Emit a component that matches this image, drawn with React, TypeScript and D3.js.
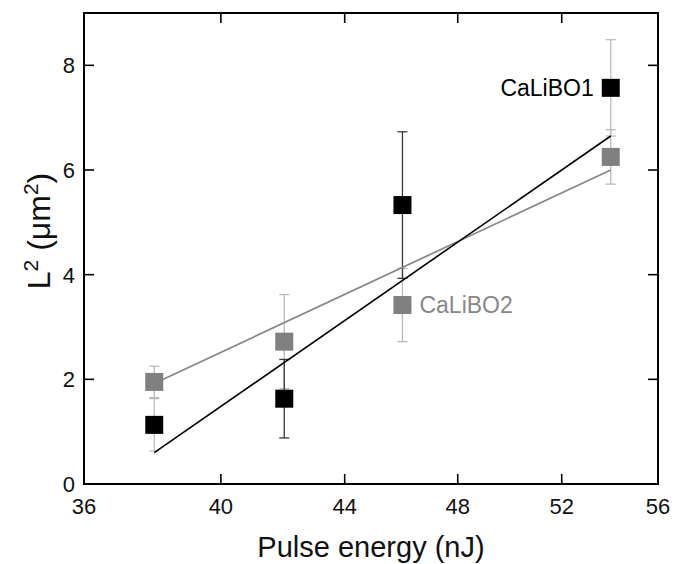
import * as d3 from 'd3';

const W = 674, H = 564;
const FONT = '"Liberation Sans", Arial, sans-serif';

// data
const energies = [38, 42, 46, 54];
const calibo1 = [1.13, 1.63, 5.33, 7.57];
const calibo1Err = [0.5, 0.75, 1.4, 0.92];
const calibo2 = [1.95, 2.72, 3.42, 6.25];
const calibo2Err = [0.3, 0.9, 0.7, 0.52];
const fit1 = [0.6, 6.65]; // linear fit value at first / last energy
const fit2 = [1.92, 6.0];
const xTicks = [36, 40, 44, 48, 52, 56];
const yTicks = [0, 2, 4, 6, 8];

const x = d3.scaleLog().domain([36, 56]).range([84, 658]);
const y = d3.scaleLinear().domain([0, 9]).range([484, 13]);

const SQ = 18;
const CAP = 5;

type Series = { vals: number[]; err: number[]; fill: string; bar: (i: number) => string };

const series: Series[] = [
  { vals: calibo2, err: calibo2Err, fill: '#808080', bar: () => '#b8b8b8' },
  // the outer black bars come out light in the reference
  { vals: calibo1, err: calibo1Err, fill: '#000', bar: (i) => (i === 0 || i === 3 ? '#bdbdbd' : '#3a3a3a') },
];

export default function App() {
  const [left, right] = x.range();
  const [bottom, top] = y.range();
  const first = energies[0], last = energies[energies.length - 1];

  const bars = series.map((s, si) =>
    s.vals.map((v, i) => {
      const cx = x(energies[i]);
      const y1 = y(v - s.err[i]), y2 = y(v + s.err[i]);
      const c = s.bar(i);
      return (
        <g key={`e${si}-${i}`} stroke={c} strokeWidth={1.3}>
          <line x1={cx} x2={cx} y1={y1} y2={y2} />
          <line x1={cx - CAP} x2={cx + CAP} y1={y1} y2={y1} />
          <line x1={cx - CAP} x2={cx + CAP} y1={y2} y2={y2} />
        </g>
      );
    })
  );

  const squares = series.map((s, si) =>
    s.vals.map((v, i) => (
      <rect key={`s${si}-${i}`} x={x(energies[i]) - SQ / 2} y={y(v) - SQ / 2} width={SQ} height={SQ} fill={s.fill} />
    ))
  );

  return (
    <svg width={W} height={H} style={{ position: 'absolute', left: 0, top: 0, background: '#fff' }} fontFamily={FONT}>
      {bars}
      <line x1={x(first)} y1={y(fit2[0])} x2={x(last)} y2={y(fit2[1])} stroke="#8a8a8a" strokeWidth={1.8} />
      <line x1={x(first)} y1={y(fit1[0])} x2={x(last)} y2={y(fit1[1])} stroke="#000" strokeWidth={1.6} />
      {squares}

      {/* frame + inward ticks */}
      <rect x={left} y={top} width={right - left} height={bottom - top} fill="none" stroke="#000" strokeWidth={2} />
      {xTicks.map((t) => (
        <g key={`xt${t}`} stroke="#000" strokeWidth={1.6}>
          <line x1={x(t)} x2={x(t)} y1={bottom} y2={bottom - 10} />
          <line x1={x(t)} x2={x(t)} y1={top} y2={top + 10} />
        </g>
      ))}
      {yTicks.map((t) => (
        <g key={`yt${t}`} stroke="#000" strokeWidth={1.6}>
          <line x1={left} x2={left + 10} y1={y(t)} y2={y(t)} />
          <line x1={right} x2={right - 10} y1={y(t)} y2={y(t)} />
        </g>
      ))}
      {xTicks.map((t) => (
        <text key={`xl${t}`} x={x(t)} y={bottom + 30} textAnchor="middle" fontSize={22} fill="#111">
          {t}
        </text>
      ))}
      {yTicks.map((t) => (
        <text key={`yl${t}`} x={left - 9} y={y(t) + 8} textAnchor="end" fontSize={22} fill="#111">
          {t}
        </text>
      ))}

      <text x={(left + right) / 2} y={557} textAnchor="middle" fontSize={29} fill="#111">
        Pulse energy (nJ)
      </text>
      <text transform={`translate(50,231) rotate(-90)`} textAnchor="middle" fontSize={32} fill="#111">
        L<tspan dy={-12} fontSize={21}>2</tspan>
        <tspan dy={12}> (μm</tspan>
        <tspan dy={-12} fontSize={21}>2</tspan>
        <tspan dy={12}>)</tspan>
      </text>

      <text x={x(last) - 17} y={y(calibo1[3]) + 8} textAnchor="end" fontSize={23} fill="#000">
        CaLiBO1
      </text>
      <text x={x(46) + 17} y={y(calibo2[2]) + 8} fontSize={23} fill="#888">
        CaLiBO2
      </text>
    </svg>
  );
}
